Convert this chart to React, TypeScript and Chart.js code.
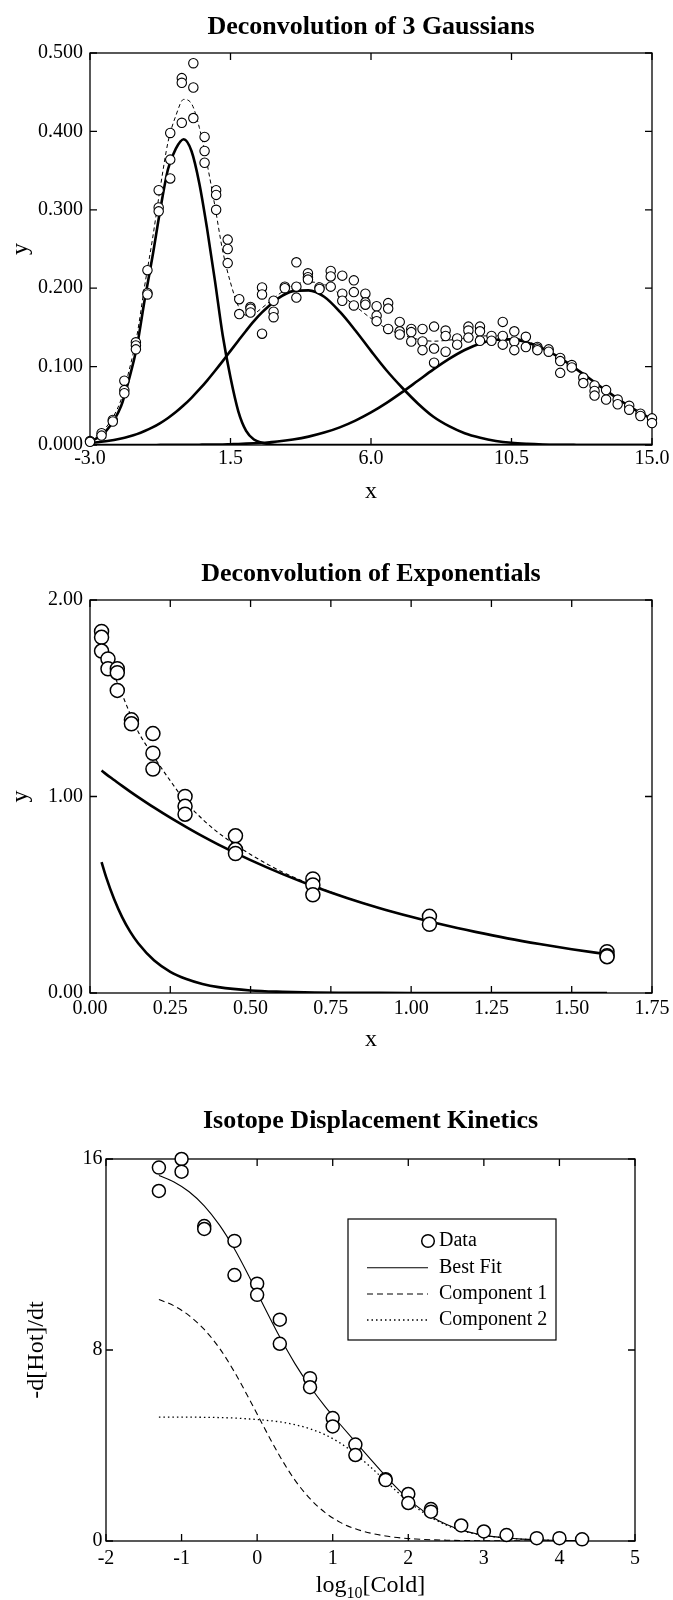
import React, { useEffect, useRef } from 'react';
import { Chart, registerables } from 'chart.js';
Chart.register(...registerables);

const FONT = "'Liberation Serif', 'Times New Roman', serif";
Chart.defaults.font.family = FONT;
Chart.defaults.color = '#000';

// ---------- Chart 1: Deconvolution of 3 Gaussians ----------
const gaussX = [-3.0, -2.63, -2.27, -1.9, -1.53, -1.16, -0.8, -0.43, -0.06, 0.31, 0.67, 1.04, 1.41, 1.78, 2.14, 2.51, 2.88, 3.24, 3.61, 3.98, 4.35, 4.71, 5.08, 5.45, 5.82, 6.18, 6.55, 6.92, 7.29, 7.65, 8.02, 8.39, 8.76, 9.12, 9.49, 9.86, 10.22, 10.59, 10.96, 11.33, 11.69, 12.06, 12.43, 12.8, 13.16, 13.53, 13.9, 14.27, 14.63, 15.0];
const gaussRepA = [0.005, 0.015, 0.032, 0.082, 0.131, 0.223, 0.325, 0.398, 0.468, 0.487, 0.393, 0.325, 0.262, 0.186, 0.176, 0.201, 0.184, 0.202, 0.233, 0.219, 0.201, 0.222, 0.216, 0.21, 0.193, 0.177, 0.181, 0.157, 0.148, 0.148, 0.151, 0.146, 0.136, 0.151, 0.151, 0.139, 0.157, 0.145, 0.138, 0.125, 0.122, 0.111, 0.102, 0.086, 0.076, 0.07, 0.058, 0.05, 0.04, 0.034];
const gaussRepB = [0.004, 0.012, 0.03, 0.07, 0.127, 0.194, 0.303, 0.364, 0.462, 0.456, 0.375, 0.319, 0.25, 0.167, 0.174, 0.192, 0.17, 0.2, 0.202, 0.214, 0.199, 0.215, 0.193, 0.195, 0.182, 0.165, 0.174, 0.145, 0.144, 0.132, 0.123, 0.139, 0.128, 0.146, 0.145, 0.133, 0.139, 0.132, 0.125, 0.123, 0.119, 0.107, 0.099, 0.079, 0.069, 0.058, 0.052, 0.045, 0.037, 0.028];
const gaussRepC = [null, null, null, 0.066, 0.122, 0.192, 0.298, 0.34, 0.411, 0.417, 0.36, 0.3, 0.232, null, 0.169, 0.142, 0.163, null, 0.188, 0.211, null, 0.202, 0.184, 0.178, 0.179, 0.158, 0.148, 0.141, 0.132, 0.121, 0.105, 0.119, null, 0.137, 0.133, null, 0.128, 0.121, null, 0.121, null, 0.092, null, null, 0.063, null, null, null, null, null];

const gaussCurveX = [-3, -2.5, -2, -1.75, -1.5, -1.25, -1, -0.75, -0.5, -0.25, 0, 0.25, 0.5, 0.75, 1, 1.25, 1.5, 1.75, 2, 2.25, 2.5, 2.75, 3, 3.5, 4, 4.5, 5, 5.5, 6, 6.5, 7, 7.5, 8, 8.5, 9, 9.5, 10, 10.5, 11, 11.5, 12, 12.5, 13, 13.5, 14, 14.5, 15];
const gaussComp1 = [0.004, 0.017, 0.05, 0.084, 0.125, 0.185, 0.24, 0.3, 0.352, 0.378, 0.39, 0.375, 0.334, 0.276, 0.21, 0.14, 0.086, 0.043, 0.018, 0.007, 0.003, 0.001, 0, 0, 0, 0, 0, 0, 0, 0, 0, 0, 0, 0, 0, 0, 0, 0, 0, 0, 0, 0, 0, 0, 0, 0, 0];
const gaussComp2 = [0.0025, 0.0047, 0.0082, 0.0108, 0.0139, 0.0178, 0.0224, 0.028, 0.0345, 0.042, 0.0506, 0.0602, 0.0708, 0.0822, 0.0944, 0.107, 0.1201, 0.133, 0.1458, 0.158, 0.1688, 0.178, 0.1864, 0.1963, 0.1972, 0.1891, 0.17, 0.146, 0.12, 0.095, 0.073, 0.053, 0.036, 0.024, 0.015, 0.0092, 0.0052, 0.0028, 0.0015, 0.0007, 0.0003, 0.0001, 0, 0, 0, 0, 0];
const gaussComp3 = [0, 0, 0, 0, 0, 0, 0, 0.0001, 0.0001, 0.0001, 0.0002, 0.0003, 0.0004, 0.0005, 0.0005, 0.0007, 0.001, 0.0013, 0.0017, 0.0022, 0.0028, 0.0036, 0.0045, 0.0071, 0.0107, 0.0158, 0.0225, 0.0311, 0.0415, 0.0537, 0.0674, 0.0819, 0.0964, 0.1098, 0.1212, 0.1296, 0.1342, 0.1347, 0.1308, 0.1232, 0.1123, 0.0991, 0.0848, 0.0703, 0.0564, 0.0438, 0.033];
const gaussTotal = [0.0065, 0.0217, 0.0582, 0.0948, 0.1389, 0.2028, 0.2624, 0.328, 0.3866, 0.4201, 0.4408, 0.4355, 0.4052, 0.3587, 0.3049, 0.2477, 0.2071, 0.1773, 0.1655, 0.1672, 0.1746, 0.1826, 0.1909, 0.2034, 0.2079, 0.2049, 0.1925, 0.1771, 0.1615, 0.1487, 0.1404, 0.1349, 0.1324, 0.1338, 0.1362, 0.1388, 0.1394, 0.1375, 0.1323, 0.1239, 0.1126, 0.0992, 0.0848, 0.0703, 0.0564, 0.0438, 0.033];

// ---------- Chart 2: Deconvolution of Exponentials ----------
const expX = [0.036, 0.056, 0.085, 0.129, 0.196, 0.296, 0.453, 0.694, 1.057, 1.61];
const expRepA = [1.84, 1.7, 1.65, 1.39, 1.32, 1.0, 0.8, 0.58, 0.39, 0.21];
const expRepB = [1.81, 1.65, 1.63, 1.37, 1.22, 0.95, 0.73, 0.55, 0.35, 0.19];
const expRepC = [1.74, null, 1.54, null, 1.14, 0.91, 0.71, 0.5, null, 0.185];

const expCurveX = [0.036, 0.05, 0.075, 0.1, 0.125, 0.15, 0.2, 0.25, 0.3, 0.35, 0.4, 0.5, 0.6, 0.7, 0.8, 0.9, 1.0, 1.1, 1.2, 1.3, 1.4, 1.5, 1.61];
const expSlow = [1.132, 1.114, 1.084, 1.054, 1.025, 0.997, 0.943, 0.892, 0.844, 0.798, 0.755, 0.676, 0.605, 0.541, 0.484, 0.433, 0.388, 0.347, 0.311, 0.278, 0.249, 0.223, 0.197];
const expFast = [0.666, 0.591, 0.478, 0.386, 0.312, 0.253, 0.165, 0.108, 0.071, 0.046, 0.03, 0.013, 0.006, 0.002, 0.001, 0.0004, 0.0002, 0.0001, 0, 0, 0, 0, 0];
const expTotal = [1.8, 1.73, 1.62, 1.52, 1.42, 1.33, 1.2, 1.08, 0.97, 0.885, 0.815, 0.705, 0.615, 0.545, 0.485, 0.433, 0.388, 0.347, 0.311, 0.278, 0.249, 0.223, 0.197];

// ---------- Chart 3: Isotope Displacement Kinetics ----------
const isoX = [-1.3, -1.0, -0.7, -0.3, 0, 0.3, 0.7, 1.0, 1.3, 1.7, 2.0, 2.3, 2.7, 3.0, 3.3, 3.7, 4.0, 4.3];
const isoRepA = [15.64, 16.0, 13.19, 12.57, 10.78, 9.27, 6.82, 5.15, 4.04, 2.59, 1.97, 1.34, 0.65, 0.4, 0.25, 0.12, 0.12, 0.07];
const isoRepB = [14.66, 15.47, 13.07, 11.14, 10.31, 8.26, 6.44, 4.8, 3.6, 2.55, 1.59, 1.23, null, null, null, null, null, null];

const isoCurveX = [-1.3, -1.1, -0.9, -0.7, -0.5, -0.3, -0.1, 0.1, 0.3, 0.5, 0.7, 0.9, 1.1, 1.3, 1.5, 1.7, 1.9, 2.1, 2.3, 2.5, 2.7, 2.9, 3.1, 3.3, 3.5, 3.7, 3.9, 4.1, 4.3];
const isoBestFit = [15.31, 15.04, 14.63, 14.04, 13.24, 12.23, 11.04, 9.77, 8.54, 7.43, 6.47, 5.63, 4.88, 4.15, 3.43, 2.72, 2.06, 1.49, 1.04, 0.7, 0.465, 0.302, 0.194, 0.124, 0.079, 0.05, 0.032, 0.02, 0.013];
const isoComp1 = [10.12, 9.85, 9.44, 8.86, 8.08, 7.08, 5.92, 4.71, 3.55, 2.55, 1.77, 1.19, 0.78, 0.51, 0.33, 0.21, 0.13, 0.084, 0.053, 0.034, 0.021, 0.013, 0.008, 0.005, 0.003, 0.002, 0.001, 0.001, 0.0005];
const isoComp2 = [5.19, 5.19, 5.19, 5.18, 5.17, 5.15, 5.11, 5.06, 4.99, 4.87, 4.7, 4.45, 4.1, 3.65, 3.1, 2.51, 1.93, 1.41, 0.99, 0.67, 0.44, 0.29, 0.19, 0.12, 0.076, 0.048, 0.03, 0.019, 0.012];
const isoLegendLabels = ['Data', 'Best Fit', 'Component 1', 'Component 2'];

// ---------- helpers ----------
const toPoints = (xs: number[], ...reps: (number | null)[][]) => {
  const out: { x: number; y: number }[] = [];
  xs.forEach((x, i) => reps.forEach((r) => { const v = r[i]; if (v !== null && v !== undefined) out.push({ x, y: v }); }));
  return out;
};
const toCurve = (xs: number[], ys: number[]) => xs.map((x, i) => ({ x, y: ys[i] }));

const pointSet = (data: any[], r: number, bw: number) => ({
  data, showLine: false, pointRadius: r, pointHoverRadius: r, pointBackgroundColor: '#fff',
  pointBorderColor: '#000', pointBorderWidth: bw, clip: false,
});
const lineSet = (data: any[], width: number, dash: number[] = []) => ({
  data, pointRadius: 0, borderColor: '#000', borderWidth: width, borderDash: dash,
  fill: false, cubicInterpolationMode: 'monotone',
});

const framePlugin = {
  id: 'frameTicks',
  beforeDatasetsDraw(chart: any) {
    const { ctx, chartArea: a, scales } = chart;
    const len = 7;
    ctx.save();
    ctx.strokeStyle = '#000';
    ctx.lineWidth = 1.3;
    ctx.strokeRect(a.left, a.top, a.right - a.left, a.bottom - a.top);
    ctx.beginPath();
    for (const t of scales.x.ticks) {
      const px = scales.x.getPixelForValue(t.value);
      ctx.moveTo(px, a.bottom); ctx.lineTo(px, a.bottom - len);
      ctx.moveTo(px, a.top); ctx.lineTo(px, a.top + len);
    }
    for (const t of scales.y.ticks) {
      const py = scales.y.getPixelForValue(t.value);
      ctx.moveTo(a.left, py); ctx.lineTo(a.left + len, py);
      ctx.moveTo(a.right, py); ctx.lineTo(a.right - len, py);
    }
    ctx.stroke();
    ctx.restore();
  },
};

type Spec = {
  title: string; titlePad: [number, number]; padRight: number;
  xMin: number; xMax: number; xStep: number; xFmt: (v: number) => string; xHeight: number; xTickPad: number; xTitle: string | null; xTitlePadBottom: number;
  yMin: number; yMax: number; yStep: number; yFmt: (v: number) => string; yWidth: number; yTitle: string; yTitlePadTop: number; yTickPad: number;
  datasets: any[]; extraPlugins?: any[];
};

function build(canvas: HTMLCanvasElement, s: Spec) {
  return new Chart(canvas, {
    type: 'line',
    data: { datasets: s.datasets },
    options: {
      animation: false,
      responsive: false,
      devicePixelRatio: 1,
      layout: { padding: { left: 0, right: s.padRight, top: 0, bottom: 0 } },
      plugins: {
        legend: { display: false },
        tooltip: { enabled: false },
        title: {
          display: true, text: s.title, fullSize: false, color: '#000',
          font: { family: FONT, size: 26, weight: 'bold', lineHeight: 1.2 },
          padding: { top: s.titlePad[0], bottom: s.titlePad[1] },
        },
      },
      scales: {
        x: {
          type: 'linear', min: s.xMin, max: s.xMax,
          grid: { display: false, drawTicks: false }, border: { display: false },
          ticks: { stepSize: s.xStep, autoSkip: false, maxRotation: 0, padding: s.xTickPad, color: '#000', font: { family: FONT, size: 20 }, callback: (v: any) => s.xFmt(Number(v)) },
          title: { display: !!s.xTitle, text: s.xTitle || '', color: '#000', font: { family: FONT, size: 24 }, padding: { top: 0, bottom: s.xTitlePadBottom } },
          afterFit: (sc: any) => { sc.height = s.xHeight; sc.paddingLeft = 0; sc.paddingRight = 0; },
        },
        y: {
          type: 'linear', min: s.yMin, max: s.yMax,
          grid: { display: false, drawTicks: false }, border: { display: false },
          ticks: { stepSize: s.yStep, autoSkip: false, padding: s.yTickPad, color: '#000', font: { family: FONT, size: 20 }, callback: (v: any) => s.yFmt(Number(v)) },
          title: { display: true, text: s.yTitle, color: '#000', font: { family: FONT, size: 24 }, padding: { top: s.yTitlePadTop, bottom: 0 } },
          afterFit: (sc: any) => { sc.width = s.yWidth; sc.paddingTop = 0; sc.paddingBottom = 0; },
        },
      },
    } as any,
    plugins: [framePlugin, ...(s.extraPlugins || [])],
  });
}

const isoExtrasPlugin = {
  id: 'isoExtras',
  afterDraw(chart: any) {
    const { ctx, chartArea: a } = chart;
    ctx.save();
    // x-axis title with subscript
    ctx.fillStyle = '#000';
    ctx.textBaseline = 'alphabetic';
    ctx.textAlign = 'left';
    ctx.font = `24px ${FONT}`;
    const w1 = ctx.measureText('log').width;
    const w3 = ctx.measureText('[Cold]').width;
    ctx.font = `16px ${FONT}`;
    const w2 = ctx.measureText('10').width;
    const cx = (a.left + a.right) / 2;
    let x = cx - (w1 + w2 + w3) / 2;
    const base = 532;
    ctx.font = `24px ${FONT}`;
    ctx.fillText('log', x, base); x += w1;
    ctx.font = `16px ${FONT}`;
    ctx.fillText('10', x, base + 6); x += w2;
    ctx.font = `24px ${FONT}`;
    ctx.fillText('[Cold]', x, base);

    // legend box
    const bx = 348, by = 159, bw = 208, bh = 121;
    ctx.fillStyle = '#fff';
    ctx.fillRect(bx, by, bw, bh);
    ctx.strokeStyle = '#000';
    ctx.lineWidth = 1.2;
    ctx.strokeRect(bx, by, bw, bh);
    const rows = [181, 207.7, 234, 260];
    const lx0 = 367, lx1 = 428, tx = 439;
    ctx.font = `20px ${FONT}`;
    ctx.textBaseline = 'middle';
    ctx.fillStyle = '#000';
    isoLegendLabels.forEach((lab, i) => {
      const y = rows[i];
      ctx.save();
      if (i === 0) {
        ctx.beginPath();
        ctx.arc(lx1, y, 6.3, 0, Math.PI * 2);
        ctx.fillStyle = '#fff';
        ctx.fill();
        ctx.lineWidth = 1.5;
        ctx.stroke();
      } else {
        ctx.beginPath();
        ctx.lineWidth = i === 3 ? 1.3 : 1.1;
        ctx.setLineDash(i === 1 ? [] : i === 2 ? [6, 4] : [1.5, 3]);
        ctx.moveTo(lx0, y);
        ctx.lineTo(lx1, y);
        ctx.stroke();
      }
      ctx.restore();
      ctx.fillText(lab, tx, y);
    });
    ctx.restore();
  },
};

export default function App() {
  const r1 = useRef<HTMLCanvasElement>(null);
  const r2 = useRef<HTMLCanvasElement>(null);
  const r3 = useRef<HTMLCanvasElement>(null);

  useEffect(() => {
    const c1 = build(r1.current!, {
      title: 'Deconvolution of 3 Gaussians', titlePad: [11.9, 9.9], padRight: 21,
      xMin: -3, xMax: 15, xStep: 4.5, xFmt: (v) => v.toFixed(1), xHeight: 85, xTickPad: 2, xTitle: 'x', xTitlePadBottom: 24.3,
      yMin: 0, yMax: 0.5, yStep: 0.1, yFmt: (v) => v.toFixed(3), yWidth: 90, yTitle: 'y', yTitlePadTop: 6, yTickPad: 7,
      datasets: [
        pointSet(toPoints(gaussX, gaussRepA, gaussRepB, gaussRepC), 4.7, 1.1),
        lineSet(toCurve(gaussCurveX, gaussTotal), 1, [4, 3]),
        lineSet(toCurve(gaussCurveX, gaussComp1), 2.6),
        lineSet(toCurve(gaussCurveX, gaussComp2), 2.6),
        lineSet(toCurve(gaussCurveX, gaussComp3), 2.6),
      ],
    });
    const c2 = build(r2.current!, {
      title: 'Deconvolution of Exponentials', titlePad: [28.4, 10.4], padRight: 21,
      xMin: 0, xMax: 1.75, xStep: 0.25, xFmt: (v) => v.toFixed(2), xHeight: 67, xTickPad: 4, xTitle: 'x', xTitlePadBottom: 6.3,
      yMin: 0, yMax: 2, yStep: 1, yFmt: (v) => v.toFixed(2), yWidth: 90, yTitle: 'y', yTitlePadTop: 6.5, yTickPad: 7,
      datasets: [
        pointSet(toPoints(expX, expRepA, expRepB, expRepC), 7, 1.5),
        lineSet(toCurve(expCurveX, expTotal), 1.1, [4, 3]),
        lineSet(toCurve(expCurveX, expSlow), 2.6),
        lineSet(toCurve(expCurveX, expFast), 2.6),
      ],
    });
    const c3 = build(r3.current!, {
      title: 'Isotope Displacement Kinetics', titlePad: [45.4, 22.4], padRight: 38,
      xMin: -2, xMax: 5, xStep: 1, xFmt: (v) => String(Math.round(v)), xHeight: 59, xTickPad: 6, xTitle: null, xTitlePadBottom: 0,
      yMin: 0, yMax: 16, yStep: 8, yFmt: (v) => String(Math.round(v)), yWidth: 106, yTitle: '-d[Hot]/dt', yTitlePadTop: 22.5, yTickPad: 3.5,
      datasets: [
        pointSet(toPoints(isoX, isoRepA, isoRepB), 6.5, 1.5),
        lineSet(toCurve(isoCurveX, isoBestFit), 1.1),
        lineSet(toCurve(isoCurveX, isoComp1), 1.1, [6, 4]),
        lineSet(toCurve(isoCurveX, isoComp2), 1.3, [1.5, 3]),
      ],
      extraPlugins: [isoExtrasPlugin],
    });
    return () => { c1.destroy(); c2.destroy(); c3.destroy(); };
  }, []);

  return (
    <div style={{ position: 'absolute', left: 0, top: 0, width: 673, height: 1600, background: '#fff' }}>
      <canvas ref={r1} width={673} height={530} style={{ display: 'block' }} />
      <canvas ref={r2} width={673} height={530} style={{ display: 'block' }} />
      <canvas ref={r3} width={673} height={540} style={{ display: 'block' }} />
    </div>
  );
}
